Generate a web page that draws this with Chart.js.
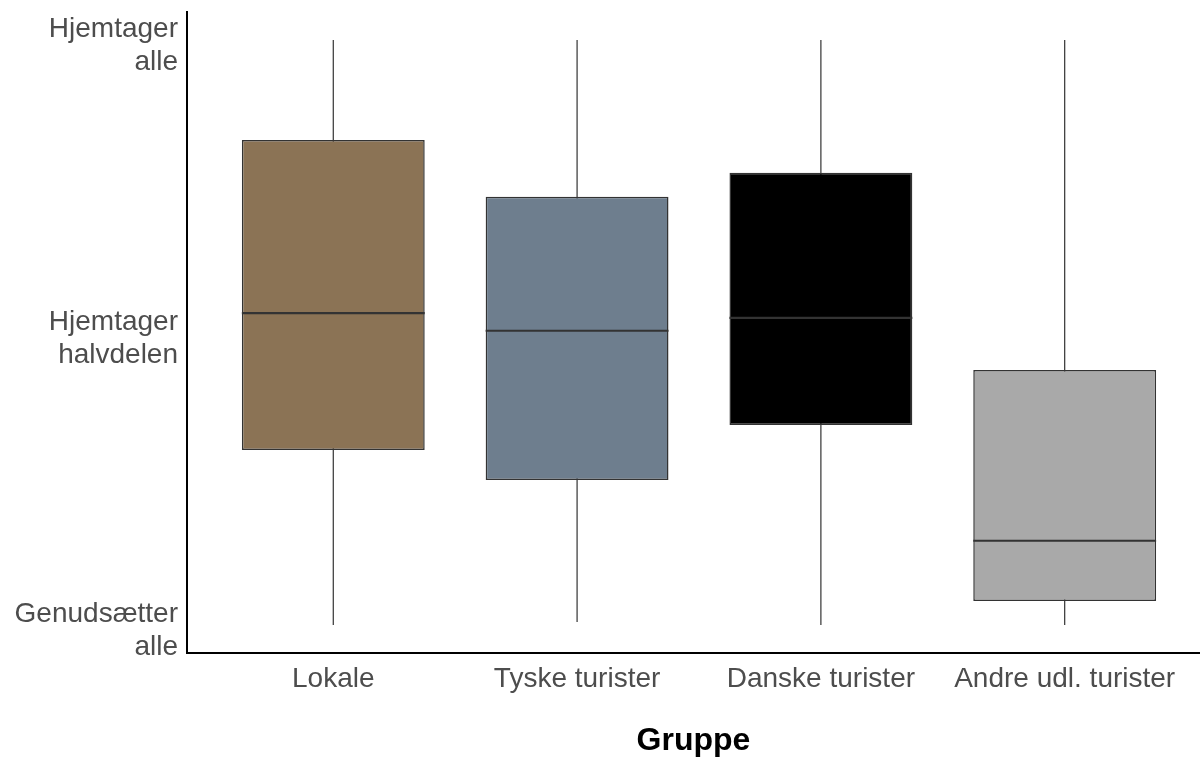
<!DOCTYPE html>
<html>
<head>
<meta charset="utf-8">
<script src="https://cdn.jsdelivr.net/npm/chart.js@4/dist/chart.umd.min.js"></script>
<style>
  html, body { margin: 0; padding: 0; background: #fff; }
  #wrap { width: 1200px; height: 758px; position: relative; }
</style>
</head>
<body>
<div id="wrap"><canvas id="boxChart"></canvas></div>
<script>
// groups on the x axis
const groups = ["Lokale", "Tyske turister", "Danske turister", "Andre udl. turister"];

// box plot values (0 = genudsætter alle, 1 = hjemtager alle)
const whiskerLow = [0, 0.005, 0, 0];
const q1 = [0.299, 0.248, 0.342, 0.041];
const median = [0.533, 0.503, 0.525, 0.144];
const q3 = [0.829, 0.732, 0.773, 0.436];
const whiskerHigh = [1, 1, 1, 1];

// y tick positions and labels
const yTickValues = [0, 0.5, 1];
const yTickLabels = [["Genudsætter", "alle"], ["Hjemtager", "halvdelen"], ["Hjemtager", "alle"]];

const boxColors = ["#8B7355", "#6E7E8E", "#000000", "#A9A9A9"];

// median lines drawn across each box
const medianPlugin = {
  id: "medianLines",
  afterDatasetsDraw(chart) {
    const meta = chart.getDatasetMeta(0);
    const yScale = chart.scales.y;
    const ctx = chart.ctx;
    ctx.save();
    ctx.strokeStyle = "#333333";
    ctx.lineWidth = 2.2;
    meta.data.forEach((bar, i) => {
      const y = yScale.getPixelForValue(median[i]);
      ctx.beginPath();
      ctx.moveTo(bar.x - bar.width / 2, y);
      ctx.lineTo(bar.x + bar.width / 2, y);
      ctx.stroke();
    });
    ctx.restore();
  },
};

const ctx = document.getElementById("boxChart").getContext("2d");
new Chart(ctx, {
  type: "bar",
  data: {
    datasets: [
      {
        label: "Boks",
        data: groups.map((g, i) => ({ x: i + 1, y: [q1[i], q3[i]] })),
        backgroundColor: boxColors,
        borderColor: "#333333",
        borderWidth: 1.5,
        borderSkipped: false,
        grouped: false,
        categoryPercentage: 1,
        barPercentage: 0.75,
      },
      {
        label: "Whisker",
        data: groups.map((g, i) => ({ x: i + 1, y: [whiskerLow[i], whiskerHigh[i]] })),
        backgroundColor: "#333333",
        borderWidth: 0,
        grouped: false,
        maxBarThickness: 1.2,
      },
    ],
  },
  options: {
    responsive: true,
    maintainAspectRatio: false,
    animation: false,
    layout: { padding: { top: 12, right: 0, left: 0, bottom: 0 } },
    plugins: {
      legend: { display: false },
      tooltip: { enabled: false },
    },
    scales: {
      x: {
        type: "linear",
        offset: false,
        min: 0.4,
        max: 4.555,
        grid: { display: false, drawTicks: false },
        border: { display: true, color: "#000000", width: 2 },
        afterBuildTicks: (axis) => {
          axis.ticks = groups.map((g, i) => ({ value: i + 1 }));
        },
        afterFit: (axis) => {
          axis.height = 105;
          axis.paddingLeft = 0;
          axis.paddingRight = 0;
        },
        ticks: {
          autoSkip: false,
          maxRotation: 0,
          padding: 9,
          color: "#4D4D4D",
          font: { family: "'Liberation Sans', Arial, sans-serif", size: 28 },
          callback: (value) => groups[Math.round(value) - 1],
        },
        title: {
          display: true,
          text: "Gruppe",
          color: "#000000",
          padding: { top: 0, bottom: 1 },
          font: { family: "'Liberation Sans', Arial, sans-serif", size: 32, weight: "bold", lineHeight: 1.0 },
        },
      },
      y: {
        min: -0.0479,
        max: 1.0479,
        grid: { display: false, drawTicks: false },
        border: { display: true, color: "#000000", width: 2 },
        afterBuildTicks: (axis) => {
          axis.ticks = yTickValues.map((v) => ({ value: v }));
        },
        afterFit: (axis) => {
          axis.width = 187;
          axis.paddingTop = 0;
          axis.paddingBottom = 0;
        },
        ticks: {
          padding: 9,
          labelOffset: 6,
          color: "#4D4D4D",
          font: { family: "'Liberation Sans', Arial, sans-serif", size: 28, lineHeight: 1.18 },
          callback: (value) => yTickLabels[yTickValues.indexOf(value)],
        },
      },
    },
  },
  plugins: [medianPlugin],
});
</script>
</body>
</html>
